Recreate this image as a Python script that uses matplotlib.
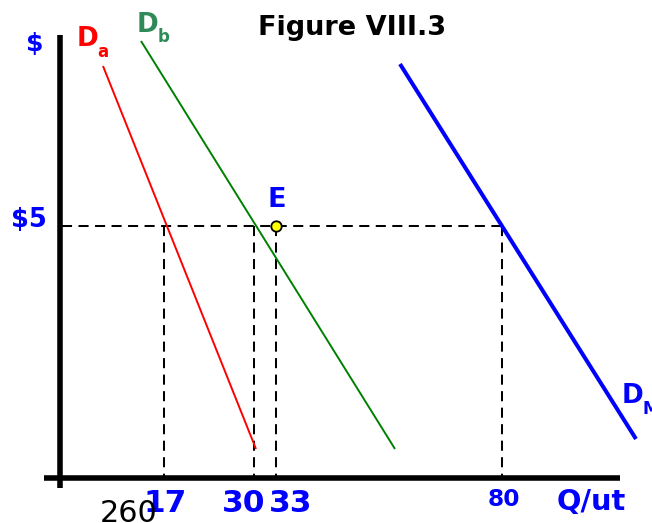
import matplotlib
matplotlib.use("Agg")
import matplotlib.pyplot as plt

# ---- data (chart units: horizontal position, vertical position; vertical grows downward) ----
quantity_labels = ["17", "30", "33", "80"]
quantity_x = [164, 254, 276, 502]          # where each quantity meets the axis
price_label = "$5"
price_y = 226                               # level of the $5 price line

curve_names = ["a", "b", "M"]
curve_x = [[103, 256], [141, 395], [400, 636]]
curve_y = [[66, 449], [41, 449], [64, 439]]
curve_colors = ["red", "green", "blue"]
curve_widths = [1.4, 1.4, 2.9]

eq_x, eq_y = 276, 226   # point E

fig = plt.figure(figsize=(6.52, 5.23), dpi=100)
ax = fig.add_axes([0, 0, 1, 1])
ax.set_xlim(0, 652)
ax.set_ylim(523, 0)
ax.axis("off")

# axes lines
ax.plot([60, 60], [35, 488], color="black", lw=4.0, solid_capstyle="butt")
ax.plot([44, 620], [478, 478], color="black", lw=4.0, solid_capstyle="butt")

# dashed guide lines
dash = (0, (5, 3.2))
ax.plot([62, quantity_x[-1]], [price_y, price_y], color="black", lw=1.45, linestyle=dash)
for qx in quantity_x:
    ax.plot([qx, qx], [price_y, 476], color="black", lw=1.45, linestyle=dash)

# demand curves
for xs, ys, c, w in zip(curve_x, curve_y, curve_colors, curve_widths):
    ax.plot(xs, ys, color=c, lw=w, solid_capstyle="butt")

# equilibrium point
ax.plot([eq_x], [eq_y], marker="o", markersize=7.5, markerfacecolor="yellow",
        markeredgecolor="black", markeredgewidth=1.3, zorder=5)

bold = dict(fontweight="bold", family="DejaVu Sans")

# tick labels on quantity axis
label_cx = [165, 244, 291, 504]
label_sizes = [22.5, 22.5, 22.5, 16.8]
label_base = [512, 512, 512, 506]
for t, cx, s, b in zip(quantity_labels, label_cx, label_sizes, label_base):
    ax.text(cx, b, t, color="blue", fontsize=s, ha="center", va="baseline", **bold)

ax.text(591, 510, "Q/ut", color="blue", fontsize=20.8, ha="center", va="baseline", **bold)
ax.text(35, 44, "$", color="blue", fontsize=18, ha="center", va="center", **bold)
ax.text(28.5, 227, price_label, color="blue", fontsize=18.5, ha="center", va="baseline", **bold)

# curve labels
ax.text(77, 46, "D", color="red", fontsize=18.8, ha="left", va="baseline", **bold)
ax.text(97, 57, curve_names[0], color="red", fontsize=12, ha="left", va="baseline", **bold)
ax.text(137, 32, "D", color="seagreen", fontsize=18.8, ha="left", va="baseline", **bold)
ax.text(158, 42, curve_names[1], color="seagreen", fontsize=12, ha="left", va="baseline", **bold)
ax.text(622, 403, "D", color="blue", fontsize=18.8, ha="left", va="baseline", **bold)
ax.text(642, 414, curve_names[2], color="blue", fontsize=12, ha="left", va="baseline", **bold)

ax.text(268, 207, "E", color="blue", fontsize=19.5, ha="left", va="baseline", **bold)

ax.text(352, 35, "Figure VIII.3", color="black", fontsize=19.5, ha="center", va="baseline", **bold)

ax.text(100, 522, "260", color="black", fontsize=21.8, ha="left", va="baseline", family="DejaVu Sans")

fig.savefig("out.png", dpi=100)
